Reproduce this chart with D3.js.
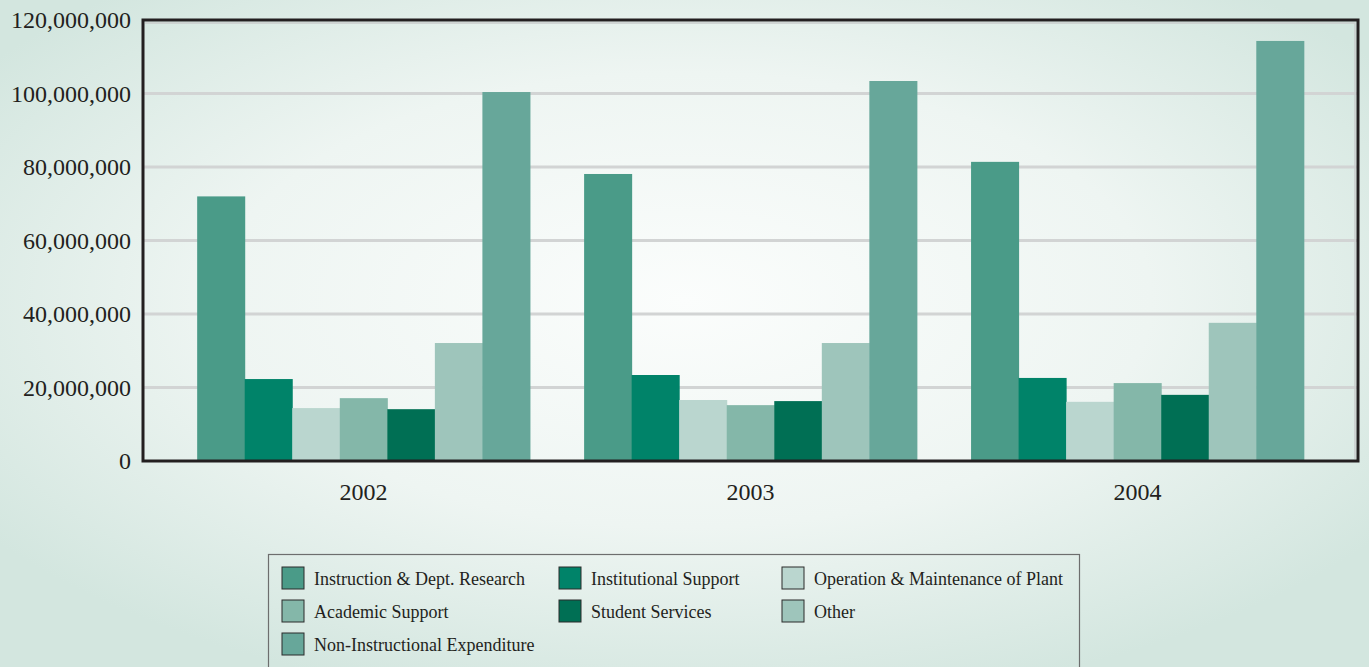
<!DOCTYPE html>
<html lang="en">

<head>
	<meta charset="utf-8">
	<title>Expenditures 2002 - 2004</title>
	<script type="text/javascript" src="https://cdn.jsdelivr.net/npm/d3@7"></script>
	<style type="text/css">
		body {
			margin: 0;
			padding: 0;
			overflow: hidden;
		}
		svg {
			display: block;
			font-family: "Liberation Serif", "DejaVu Serif", serif;
		}
	</style>
</head>

<body>
	<script type="text/javascript">

		// data
		var years = ["2002", "2003", "2004"];
		var seriesNames = ["Instruction & Dept. Research", "Institutional Support",
			"Operation & Maintenance of Plant", "Academic Support", "Student Services",
			"Other", "Non-Instructional Expenditure"];
		var colors = ["#4a9b88", "#008369", "#bad6cf", "#84b7a9", "#006f54", "#9ec5bb", "#67a79a"];

		var instruction = [72000000, 78100000, 81400000];
		var institutional = [22300000, 23400000, 22600000];
		var operation = [14400000, 16600000, 16100000];
		var academic = [17100000, 15200000, 21200000];
		var student = [14100000, 16300000, 18000000];
		var other = [32100000, 32100000, 37600000];
		var nonInstructional = [100400000, 103400000, 114300000];
		var seriesValues = [instruction, institutional, operation, academic, student, other, nonInstructional];

		var yTicks = [0, 20000000, 40000000, 60000000, 80000000, 100000000, 120000000];

		// svg
		var w = 1369;
		var h = 667;

		var svg = d3.select("body")
			.append("svg")
			.attr("width", w)
			.attr("height", h);

		// background gradient
		var defs = svg.append("defs");
		var grad = defs.append("radialGradient")
			.attr("id", "bg")
			.attr("cx", "50%")
			.attr("cy", "45%")
			.attr("r", "62%");
		grad.append("stop").attr("offset", "0%").attr("stop-color", "#fbfdfc");
		grad.append("stop").attr("offset", "55%").attr("stop-color", "#eef5f2");
		grad.append("stop").attr("offset", "100%").attr("stop-color", "#d3e6df");

		svg.append("rect")
			.attr("width", w)
			.attr("height", h)
			.attr("fill", "url(#bg)");

		// plot area edges
		var pL = 143, pR = 1358, pT = 20, pB = 461;

		var x0 = d3.scaleBand()
			.domain(years)
			.range([pL, pR])
			.padding(0.14);

		var x1 = d3.scaleBand()
			.domain(d3.range(seriesNames.length))
			.range([0, x0.bandwidth()]);

		var y = d3.scaleLinear()
			.domain([0, 120000000])
			.range([pB, pT]);

		// gridlines
		svg.selectAll("line.grid")
			.data(yTicks.slice(1, -1))
			.enter()
			.append("line")
			.attr("class", "grid")
			.attr("x1", pL)
			.attr("x2", pR)
			.attr("y1", function(d){ return y(d); })
			.attr("y2", function(d){ return y(d); })
			.attr("stroke", "#d2d4d4")
			.attr("stroke-width", 3);

		// bars
		var groups = svg.selectAll("g.year")
			.data(years)
			.enter()
			.append("g")
			.attr("class", "year")
			.attr("transform", function(d){ return "translate(" + x0(d) + ",0)"; });

		groups.selectAll("rect")
			.data(function(d, i){
				return seriesValues.map(function(vals, s){ return {s: s, v: vals[i]}; });
			})
			.enter()
			.append("rect")
			.attr("x", function(d){ return x1(d.s); })
			.attr("y", function(d){ return y(d.v); })
			.attr("width", x1.bandwidth() + 0.5)
			.attr("height", function(d){ return pB - y(d.v); })
			.attr("fill", function(d){ return colors[d.s]; });

		// frame: thin light inner line, then dark border
		svg.append("path")
			.attr("d", "M" + (pL + 2) + "," + (pT + 3) + "H" + (pR - 3) + "V" + (pB - 2))
			.attr("fill", "none")
			.attr("stroke", "#c9cccb")
			.attr("stroke-width", 1.5);

		svg.append("rect")
			.attr("x", pL)
			.attr("y", pT)
			.attr("width", pR - pL)
			.attr("height", pB - pT)
			.attr("fill", "none")
			.attr("stroke", "#231f20")
			.attr("stroke-width", 3);

		// y axis labels
		var yAxis = d3.axisLeft(y)
			.tickValues(yTicks)
			.tickSize(0)
			.tickPadding(12)
			.tickFormat(d3.format(","));

		var gy = svg.append("g")
			.attr("transform", "translate(" + pL + ",0)")
			.call(yAxis);
		gy.select(".domain").remove();
		gy.selectAll("text")
			.attr("font-family", "Liberation Serif, serif")
			.attr("font-size", "24px")
			.attr("fill", "#231f20");

		// x axis labels
		var xAxis = d3.axisBottom(x0)
			.tickSize(0)
			.tickPadding(22);

		var gx = svg.append("g")
			.attr("transform", "translate(0," + pB + ")")
			.call(xAxis);
		gx.select(".domain").remove();
		gx.selectAll("text")
			.attr("font-family", "Liberation Serif, serif")
			.attr("font-size", "24px")
			.attr("fill", "#231f20");

		// legend
		var legend = svg.append("g");
		legend.append("rect")
			.attr("x", 268.5)
			.attr("y", 554.5)
			.attr("width", 811)
			.attr("height", 130)
			.attr("fill", "none")
			.attr("stroke", "#6d6e6e")
			.attr("stroke-width", 1.2);

		var colX = [282, 559, 782];
		var rowY = [567, 600, 633];

		var items = legend.selectAll("g.item")
			.data(seriesNames)
			.enter()
			.append("g")
			.attr("class", "item")
			.attr("transform", function(d, i){
				return "translate(" + colX[i % 3] + "," + rowY[Math.floor(i / 3)] + ")";
			});

		items.append("rect")
			.attr("width", 22)
			.attr("height", 22)
			.attr("fill", function(d, i){ return colors[i]; })
			.attr("stroke", "#2b2b2b")
			.attr("stroke-width", 1);

		items.append("text")
			.attr("x", 32)
			.attr("y", 18)
			.attr("font-size", "18px")
			.attr("fill", "#231f20")
			.text(function(d){ return d; });

	</script>
</body>

</html>
